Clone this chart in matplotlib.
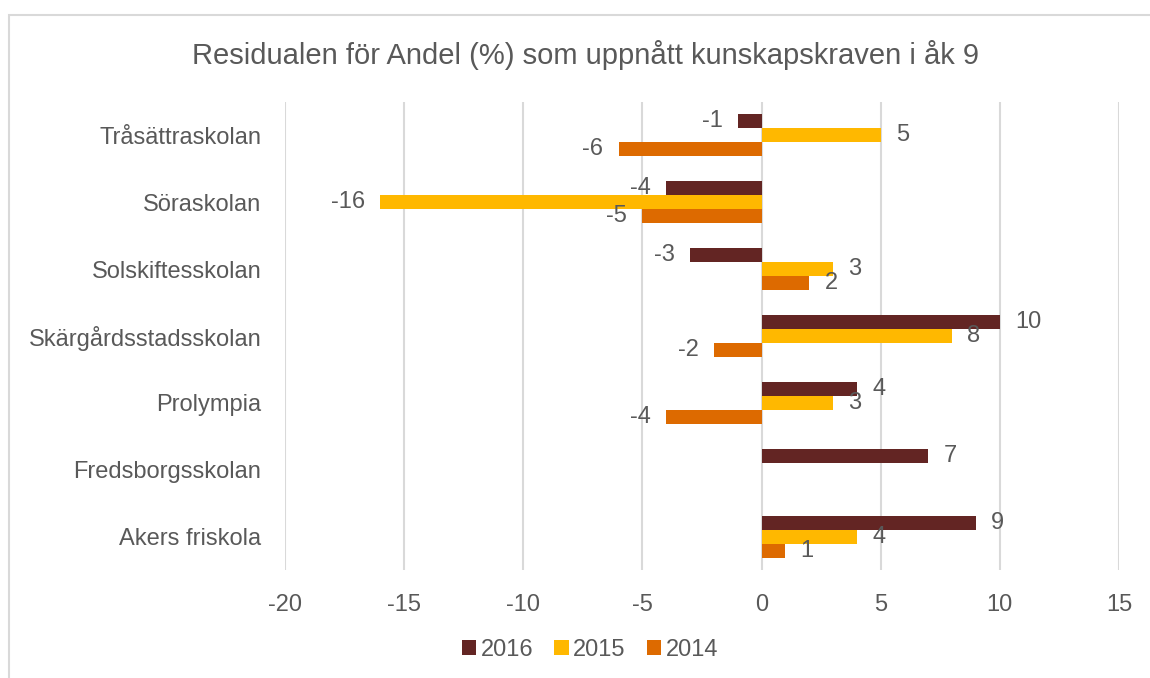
import matplotlib.pyplot as plt
import numpy as np
from matplotlib.patches import Rectangle

skolor = ["Tråsättraskolan", "Söraskolan", "Solskiftesskolan", "Skärgårdsstadsskolan",
          "Prolympia", "Fredsborgsskolan", "Akers friskola"]
ar = ["2016", "2015", "2014"]
v2016 = [-1, -4, -3, 10, 4, 7, 9]
v2015 = [5, -16, 3, 8, 3, np.nan, 4]
v2014 = [-6, -5, 2, -2, -4, np.nan, 1]
farger = ["#632523", "#FFB800", "#DD6A00"]
xticks = [-20, -15, -10, -5, 0, 5, 10, 15]

plt.rcParams['font.family'] = ['Liberation Sans', 'DejaVu Sans']
plt.rcParams['axes.unicode_minus'] = False
grå = "#595959"

fig = plt.figure(figsize=(11.5, 6.78), dpi=100)
ax = fig.add_axes([285 / 1150, 108 / 678, 834 / 1150, 468 / 678])

# ram runt diagrammet
fig.patches.append(Rectangle((9 / 1150, -0.1), 1.2, (678 - 15) / 678 + 0.1,
                             transform=fig.transFigure, fill=False,
                             edgecolor="#d9d9d9", linewidth=1.5))

y = np.arange(len(skolor))
h = 0.209
for i, (serie, namn, f) in enumerate(zip([v2016, v2015, v2014], ar, farger)):
    pos = y + (i - 1) * h
    ax.barh(pos, serie, height=h, color=f, label=namn, zorder=3)
    for yy, v in zip(pos, serie):
        if np.isnan(v):
            continue
        if v >= 0:
            ax.annotate(f"{v:g}", (v, yy), xytext=(11, 0), textcoords="offset points",
                        ha="left", va="center", fontsize=17, color=grå)
        else:
            ax.annotate(f"{v:g}", (v, yy), xytext=(-11, 0), textcoords="offset points",
                        ha="right", va="center", fontsize=17, color=grå)

ax.set_xlim(-20, 15)
ax.set_ylim(len(skolor) - 0.5, -0.5)
ax.set_xticks(xticks)
ax.set_yticks(y)
ax.set_yticklabels(skolor)
ax.tick_params(length=0, labelsize=17, labelcolor=grå)
ax.tick_params(axis="x", pad=17)
ax.tick_params(axis="y", pad=17)
ax.grid(axis="x", color="#d9d9d9", linewidth=1.5, zorder=0)
for s in ax.spines.values():
    s.set_visible(False)

fig.text(586 / 1150, 1 - 55 / 678, "Residualen för Andel (%) som uppnått kunskapskraven i åk 9",
         ha="center", va="center", fontsize=21, color=grå)

fig.legend(loc="center", bbox_to_anchor=(590 / 1150, 1 - 650 / 678), ncol=3,
           frameon=False, fontsize=17, labelcolor=grå, handlelength=0.6,
           handleheight=0.6, handletextpad=0.2, columnspacing=0.9)

fig.savefig("out.png", dpi=100)
